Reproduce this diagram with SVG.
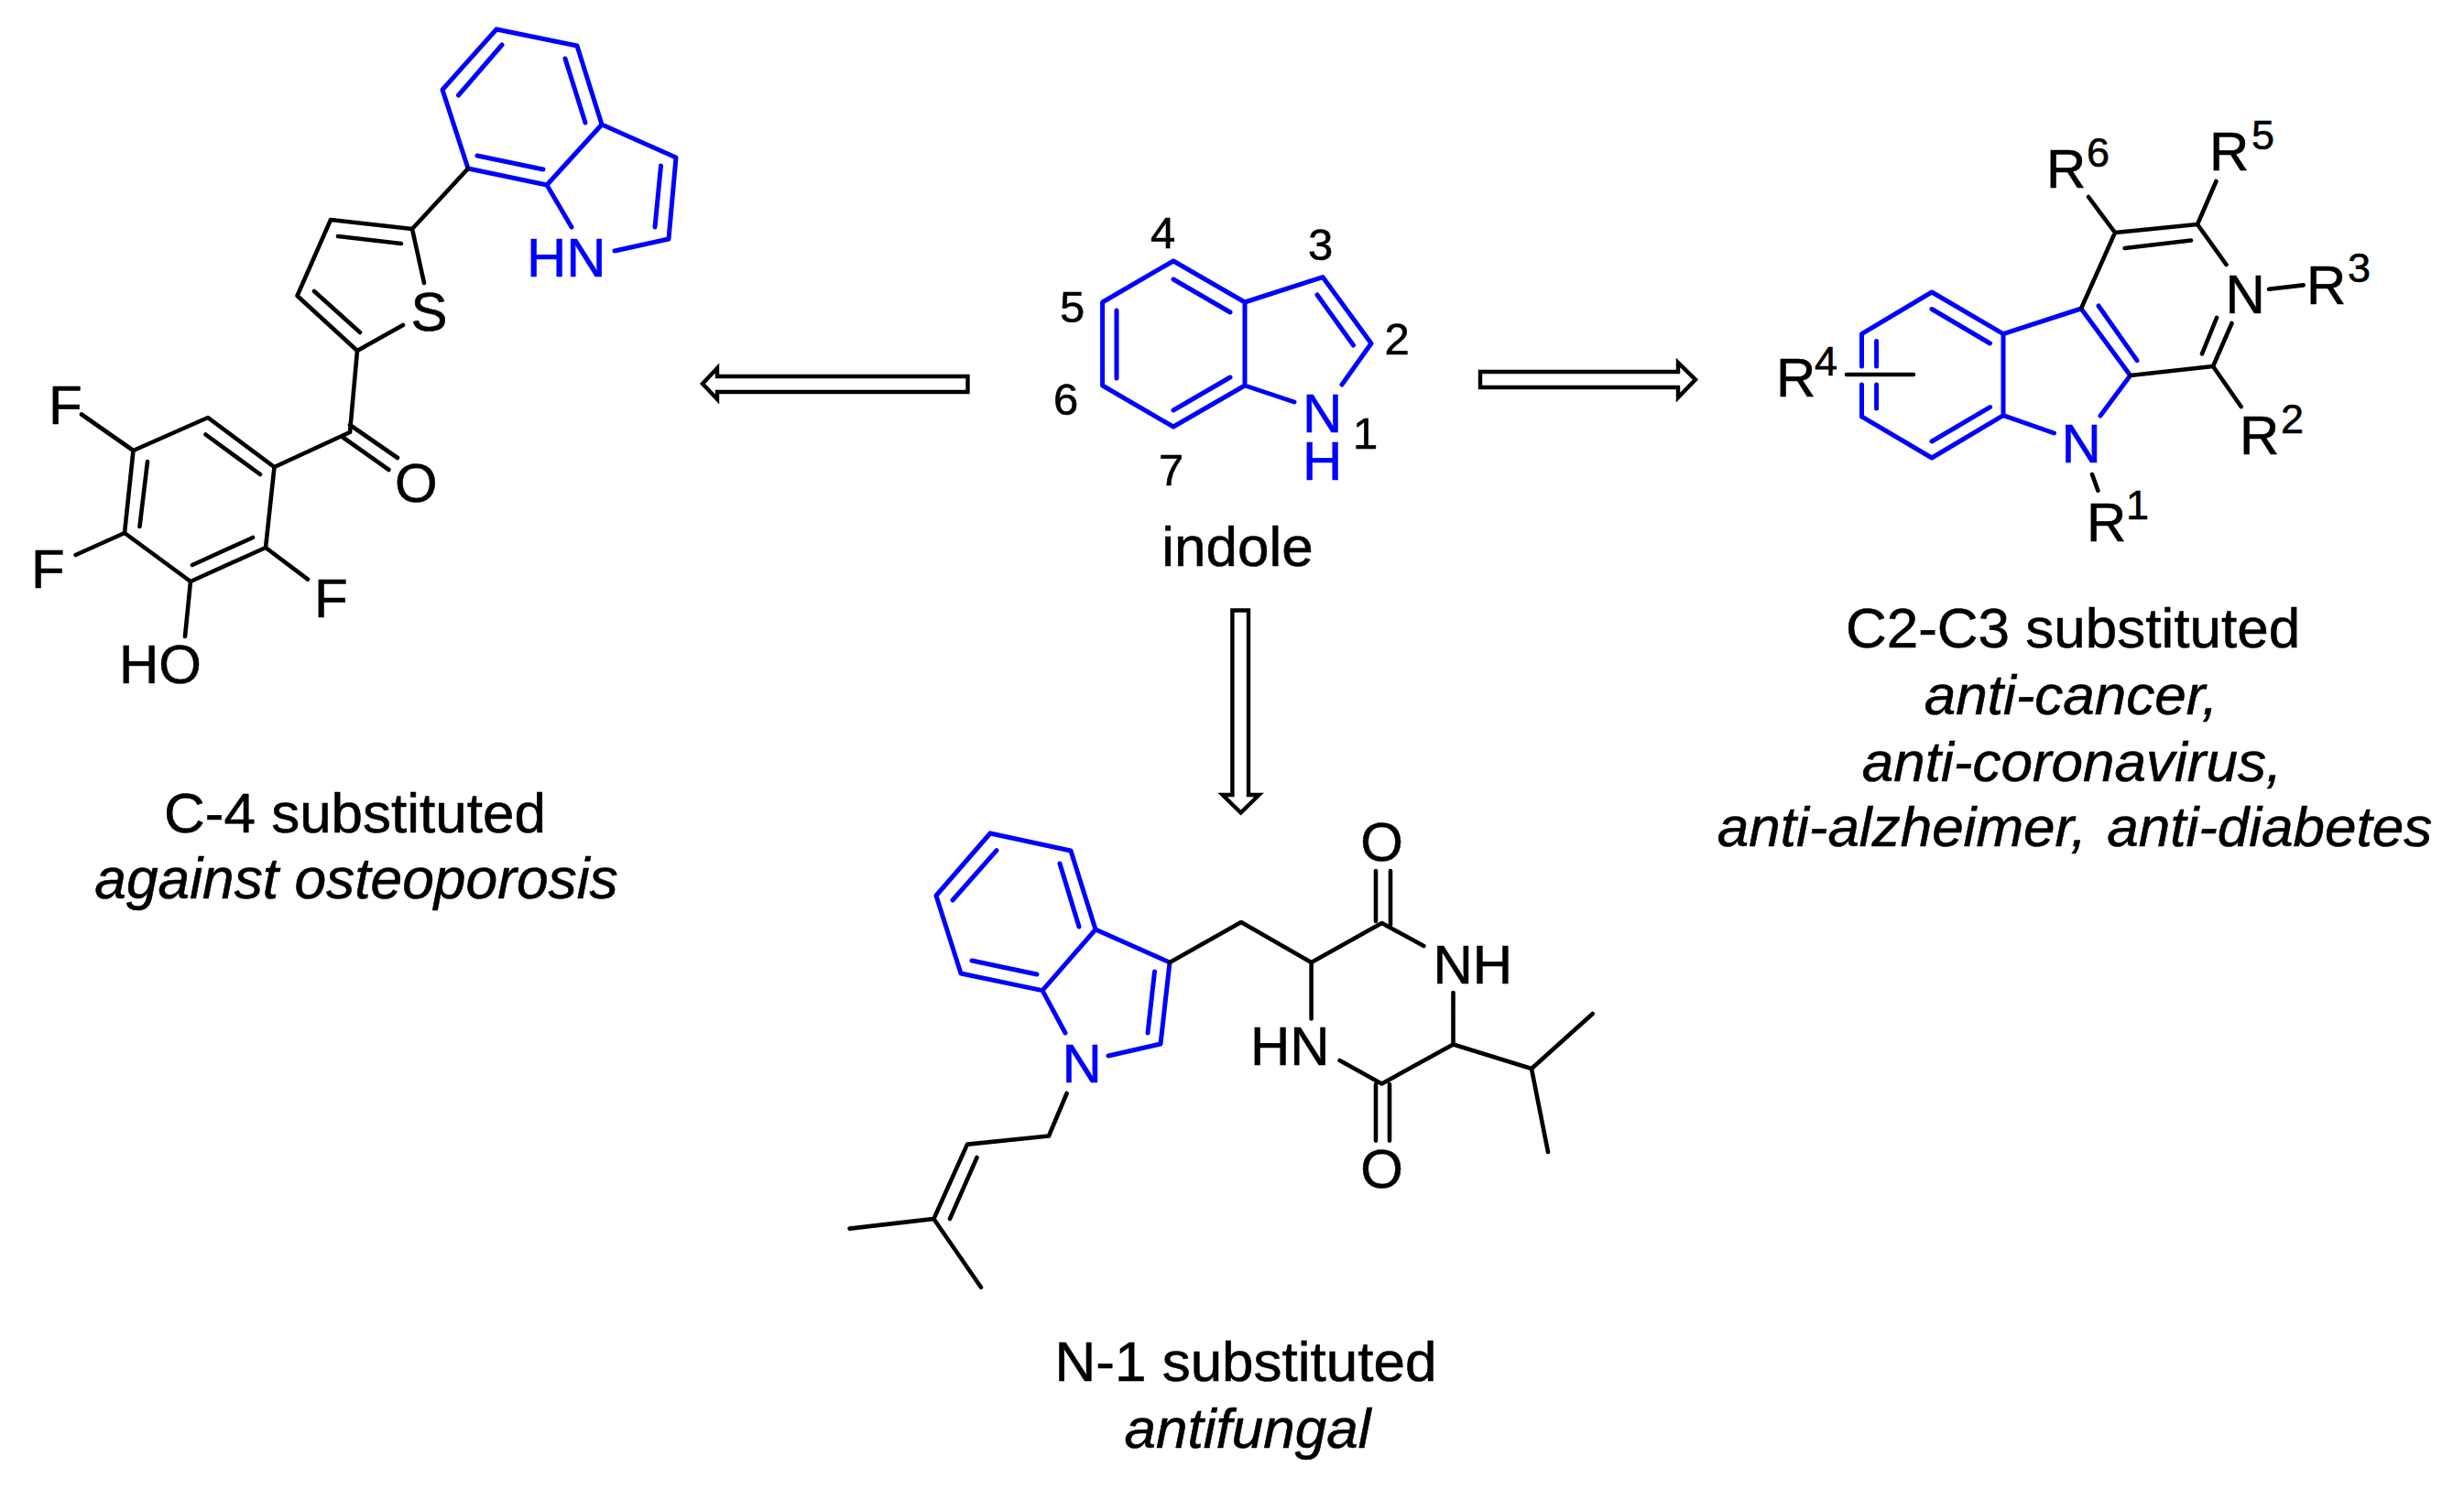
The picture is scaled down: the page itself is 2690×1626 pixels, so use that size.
<svg xmlns="http://www.w3.org/2000/svg" width="2690" height="1626" viewBox="0 0 2690 1626">
<style>
.k{fill:none;stroke:#000;stroke-width:4.6;stroke-linecap:round;stroke-linejoin:round}
.b{fill:none;stroke:#0000ff;stroke-width:5;stroke-linecap:round;stroke-linejoin:round}
.a{fill:#fff;stroke:#000;stroke-width:4.4;stroke-linejoin:miter}
text{font-family:"Liberation Sans",Arial,sans-serif;fill:#000;stroke:#000;stroke-width:.6px}
.t{font-size:60px}
.tb{font-size:60px;fill:#0000ff;stroke:#0000ff}
.s{font-size:45px}
.d{font-size:49px}
.c{font-size:62px;text-anchor:middle}
.i{font-size:62px;font-style:italic;text-anchor:middle}
</style>
<rect width="2690" height="1626" fill="#fff"/>
<g id="connectors">
<path class="a" d="M1056.5 411V428H783V436L767 419L783 402V411Z"/>
<path class="a" d="M1616 406H1832V396L1851 414.6L1832 434V423H1616Z"/>
<path class="a" d="M1345.4 666.5H1363V868H1374.5L1354.6 887.5L1334.7 868H1345.4Z"/>
</g>
<g id="indole">
<path class="b" d="M1281 285L1359 330V421L1281 466L1203.6 421V330ZM1359 330L1444 302.6L1497 375L1465 420M1359 421L1413 439M1281 305L1343 341M1219 339V413M1281 448L1343 412M1438 322L1477.5 377"/>
<text class="tb" x="1422" y="472">N</text>
<text class="tb" x="1422" y="523.6">H</text>
<text class="d" x="1256" y="271">4</text>
<text class="d" x="1428" y="284">3</text>
<text class="d" x="1511.5" y="386.5">2</text>
<text class="d" x="1477" y="490">1</text>
<text class="d" x="1157" y="352">5</text>
<text class="d" x="1150" y="453">6</text>
<text class="d" x="1265" y="530">7</text>
<text class="c" x="1351" y="618">indole</text>
</g>
<g id="c4-compound">
<path class="b" d="M542 32L630 50L657 136L738 172L730 261L671 274M657 136L597 202L511 184L483 98L542 32M597 202L624 248M548 49L500.5 104M617 64L639 134M521 170L593 185M721.5 181L715 248"/>
<path class="k" d="M511 184L450 250L463 309M450 250L361 240L324.5 323L390 383L440 355M369 258L438 266M343 318L393 363M390 383L382 472M382 464L434 500M375 478L424.5 513M382 472L299.5 510L227 456L145.5 492L136 582L208 635L290 598L299.5 510M224.5 474.5L284 518M161 504L152.5 575M210 617L276 587M145.5 492L89 452.5M136 582L82.6 606M290 598L336 632.6M208 635L202 695"/>
<text class="tb" x="575" y="302">HN</text>
<text class="t" x="448.5" y="361">S</text>
<text class="t" x="431" y="548">O</text>
<text class="t" x="53" y="463">F</text>
<text class="t" x="34" y="642">F</text>
<text class="t" x="343" y="673.5">F</text>
<text class="t" x="130" y="746">HO</text>
<text class="c" x="387.5" y="908.5">C-4 substituted</text>
<text class="i" x="389" y="981" style="font-size:62.3px">against osteoporosis</text>
</g>
<g id="c2c3-compound">
<path class="b" d="M2032.5 400V364.6L2109 319L2187 364.6V453.6L2109 500L2032.5 455V420M2109 337.5L2172.5 375M2109 482L2172.5 444.6M2048.6 372.5V400M2048.6 420V446M2187 364.6L2272 337L2325.7 410L2293 454M2187 453.6L2242.5 473M2291 334L2333 393.6"/>
<path class="k" d="M2016 409H2089M2272 337L2309 254L2399 245L2430.5 289M2319.6 271L2392 262.5M2325.7 410L2416 400L2436.5 353M2404 386.4L2420 347M2309 254L2280 215M2399 245L2419.4 198M2477 315.7L2514.6 311.4M2416 400L2446.6 444M2284 518L2290.4 535.7"/>
<text class="t" x="2234" y="205.4">R</text><text class="s" x="2278" y="182">6</text>
<text class="t" x="2412" y="186.4">R</text><text class="s" x="2458" y="163">5</text>
<text class="t" x="2429.5" y="342">N</text>
<text class="t" x="2518" y="332">R</text><text class="s" x="2563" y="308">3</text>
<text class="t" x="2445" y="496">R</text><text class="s" x="2490" y="472.5">2</text>
<text class="tb" x="2250.5" y="505">N</text>
<text class="t" x="2278" y="591">R</text><text class="s" x="2321" y="567">1</text>
<text class="t" x="1939" y="433">R</text><text class="s" x="1981" y="410">4</text>
<text class="c" x="2263" y="707">C2-C3 substituted</text>
<text class="i" x="2261" y="780">anti-cancer,</text>
<text class="i" x="2262" y="853">anti-coronavirus,</text>
<text class="i" x="2265" y="924.4" style="word-spacing:5px">anti-alzheimer, anti-diabetes</text>
</g>
<g id="n1-compound">
<path class="b" d="M1081 910L1169 929L1196 1015L1277 1051L1267 1140L1210 1153M1196 1015L1138 1081.6L1049 1063L1022 978L1081 910M1138 1081.6L1163 1128M1088 928.6L1040 983M1157 943L1178 1012M1061 1049L1132 1064M1260.5 1061L1253 1128"/>
<path class="k" d="M1277 1051L1355 1007L1431.6 1051L1508.5 1008L1554.4 1033M1502 951V1006M1518 951V1010M1431.6 1051V1112.4M1462.6 1158L1508.5 1183.5L1586.5 1140.5V1084M1586.5 1140.5L1672 1167L1738.7 1107M1672 1167L1690 1258M1502 1184V1245.6M1517 1184V1245.6M1164.6 1194L1145 1240.5L1056 1249.6L1019.4 1331M1066.5 1264L1037 1331M1019.4 1331L927.5 1341.6M1019.4 1331L1071 1405.7"/>
<text class="tb" x="1159.5" y="1181.6">N</text>
<text class="t" x="1564.5" y="1074">NH</text>
<text class="t" x="1365" y="1163">HN</text>
<text class="t" x="1508.5" y="940" text-anchor="middle">O</text>
<text class="t" x="1508.5" y="1297" text-anchor="middle">O</text>
<text class="c" x="1360" y="1507.7">N-1 substituted</text>
<text class="i" x="1362" y="1580.7">antifungal</text>
</g>
</svg>
